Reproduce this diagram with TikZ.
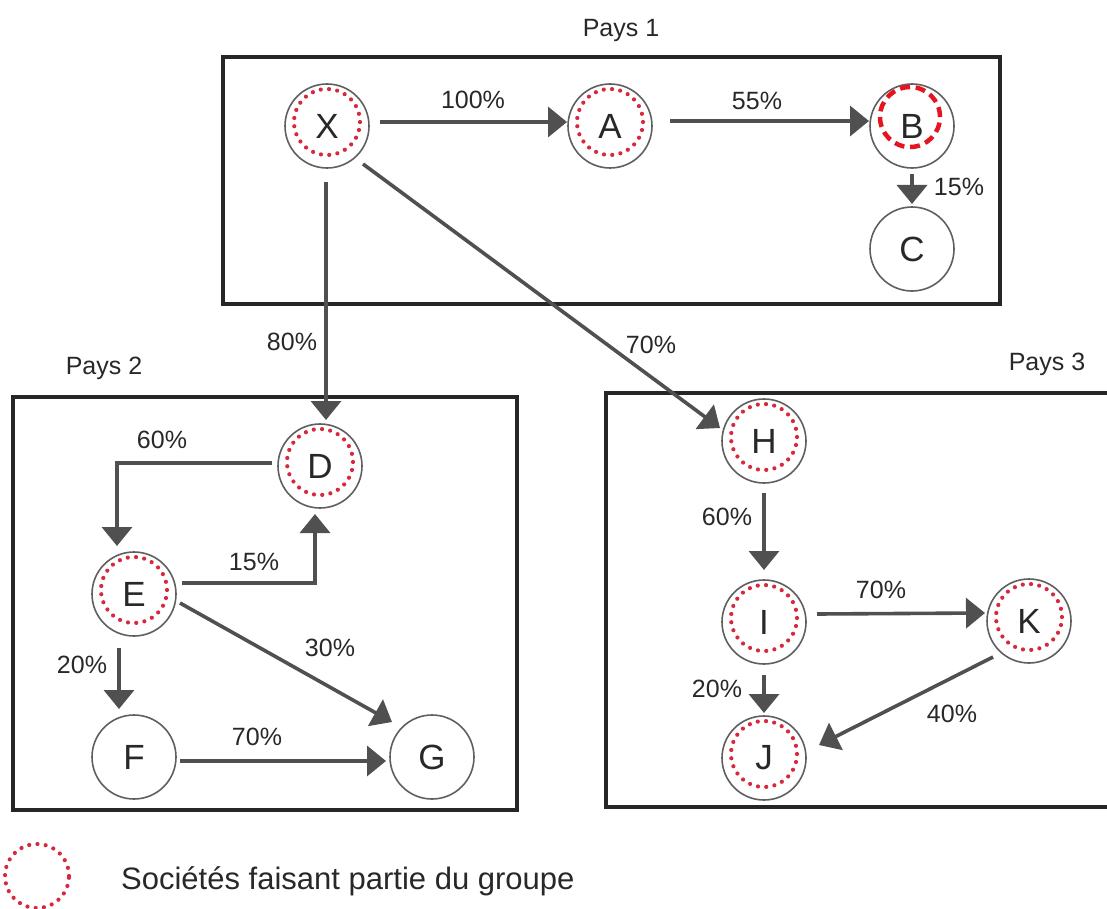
\documentclass[tikz,border=0pt]{standalone}
\usepackage{fontspec}
\setmainfont{Liberation Sans}
\usetikzlibrary{calc,arrows.meta}

\definecolor{ringgray}{RGB}{95,95,95}
\definecolor{arrowgray}{RGB}{80,80,80}
\definecolor{dotred}{RGB}{214,40,62}
\definecolor{dashred}{RGB}{230,20,30}
\definecolor{inkgray}{RGB}{40,40,40}

\tikzset{
  firm/.style={circle, draw=ringgray, line width=1.6pt, minimum size=84pt,
    inner sep=0pt, font=\fontsize{35}{35}\selectfont, text=inkgray},
  ring/.style={draw=dotred, line width=4.2pt, line cap=round,
    dash pattern=on 0pt off 8.3pt},
  dashring/.style={draw=dashred, line width=4.5pt, dash pattern=on 10pt off 5.7pt},
  link/.style={draw=arrowgray, line width=3.6pt,
    -{Triangle[width=30pt,length=19pt]}},
  pct/.style={font=\fontsize{25}{25}\selectfont, text=inkgray, inner sep=0pt},
  zone/.style={draw=black!85, line width=3.5pt},
  zonelabel/.style={font=\fontsize{25}{25}\selectfont, text=inkgray, inner sep=0pt},
}

\begin{document}
\begin{tikzpicture}[x=1pt,y=-1pt]
\useasboundingbox (0,0) rectangle (1107,909);

% country frames
\draw[zone] (223,57) rectangle (1000,304);
\draw[zone] (13,397) rectangle (517,810);
\draw[zone] (606,393) rectangle (1112,807);
\node[zonelabel] (p1) at (621,30) {Pays 1};
\node[zonelabel] (p2) at (104,368) {Pays 2};
\node[zonelabel] (p3) at (1047,364) {Pays 3};

% companies
\node[firm] (X) at (327,126) {X};
\node[firm] (A) at (610,126) {A};
\node[firm] (B) at (912,126) {B};
\node[firm] (C) at (912,249) {C};
\node[firm] (D) at (320,466) {D};
\node[firm] (E) at (134,594) {E};
\node[firm] (F) at (134,757) {F};
\node[firm] (G) at (432,757) {G};
\node[firm] (H) at (764,441) {H};
\node[firm] (I) at (764,622) {I};
\node[firm] (J) at (764,758) {J};
\node[firm] (K) at (1029,621) {K};

% group membership rings
\foreach \n in {X,A,D,E,H,I,J,K}
  \draw[ring] ($(\n)+(0,-4)$) circle[radius=33pt];
\draw[dashring] ($(B)+(-2,-9)$) circle[radius=30pt];

% shareholdings
\draw[link] ($(X)+(53,-4)$) -- ($(A)+(-43,-4)$);
\draw[link] ($(A)+(60,-5)$) -- ($(B)+(-43,-5)$);
\draw[link] ($(B)+(0,48)$) -- ($(C)+(0,-45)$);
\draw[link] ($(X)+(-1,56)$) -- ($(D)+(6,-46)$);
\draw[link] ($(X)+(36,38)$) -- ($(H)+(-44,-13)$);
\draw[link] ($(D)+(-48,-3)$) -| ($(E)+(-17,-48)$);
\draw[link] ($(E)+(48,-11)$) -| ($(D)+(-5,48)$);
\draw[link] ($(E)+(46,9)$) -- ($(G)+(-40,-35)$);
\draw[link] ($(E)+(-15,54)$) -- ($(F)+(-15,-48)$);
\draw[link] ($(F)+(46,4)$) -- ($(G)+(-46,4)$);
\draw[link] ($(H)+(0,52)$) -- ($(I)+(0,-52)$);
\draw[link] ($(I)+(53,-8)$) -- ($(K)+(-44,-8)$);
\draw[link] ($(I)+(0,53)$) -- ($(J)+(0,-45)$);
\draw[link] ($(K)+(-36,36)$) -- ($(J)+(55,-13)$);

% percentages
\node[pct] (lXA) at (473,100) {100\%};
\node[pct] (lAB) at (757,101) {55\%};
\node[pct] (lBC) at (959,187) {15\%};
\node[pct] (lXD) at (292,342) {80\%};
\node[pct] (lXH) at (651,345) {70\%};
\node[pct] (lDE) at (162,440) {60\%};
\node[pct] (lED) at (254,562) {15\%};
\node[pct] (lEG) at (330,648) {30\%};
\node[pct] (lEF) at (82,665) {20\%};
\node[pct] (lFG) at (257,737) {70\%};
\node[pct] (lHI) at (727,517) {60\%};
\node[pct] (lIK) at (881,590) {70\%};
\node[pct] (lIJ) at (717,689) {20\%};
\node[pct] (lKJ) at (952,714) {40\%};

% legend
\draw[ring] (37,876) circle[radius=32pt];
\node[anchor=west, font=\fontsize{31}{31}\selectfont, text=inkgray, inner sep=0pt]
  (keytext) at (121,881) {Sociétés faisant partie du groupe};
\end{tikzpicture}
\end{document}
